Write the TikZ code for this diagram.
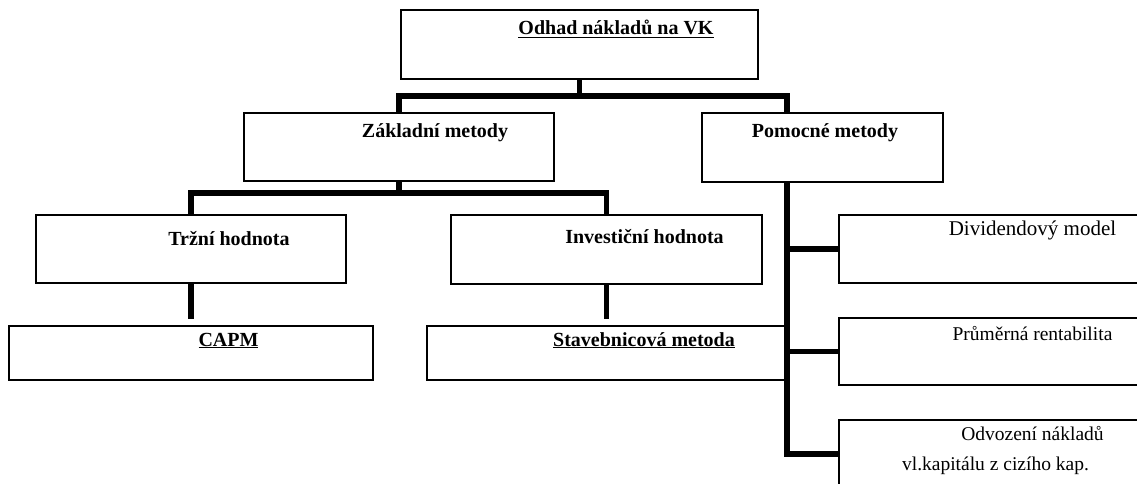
\documentclass[tikz,border=0pt]{standalone}
\usepackage{fontspec}
\setmainfont{Liberation Serif}
\usetikzlibrary{calc}
\tikzset{
  box/.style={draw=black, line width=1.8pt, fill=none, rectangle, inner sep=0pt, anchor=north west},
  conn/.style={draw=black, line width=5.5pt, line cap=butt, line join=miter},
  bt/.style={anchor=base, inner sep=0pt, font=\fontsize{20}{22}\selectfont\bfseries},
  rt/.style={anchor=base, inner sep=0pt, font=\fontsize{19.5}{22}\selectfont},
}
\begin{document}
\begin{tikzpicture}[x=1pt,y=-1pt]
\useasboundingbox (0,0) rectangle (1137,484);
\clip (0,0) rectangle (1137,484);
\fill[white] (0,0) rectangle (1137,484);
% boxes
\node[box, minimum width=357pt, minimum height=69pt] (top) at (400,9) {};
\node[box, minimum width=310pt, minimum height=68pt] (zak) at (243,112) {};
\node[box, minimum width=241pt, minimum height=69pt] (pom) at (701,112) {};
\node[box, minimum width=310pt, minimum height=68pt] (trz) at (35,214) {};
\node[box, minimum width=311pt, minimum height=69pt] (inv) at (450,214) {};
\node[box, minimum width=364pt, minimum height=54pt] (capm) at (8,325) {};
\node[box, minimum width=361pt, minimum height=54pt] (stav) at (426,325) {};
\node[box, minimum width=330pt, minimum height=68pt] (div) at (838,214) {};
\node[box, minimum width=330pt, minimum height=67pt] (pru) at (838,317) {};
\node[box, minimum width=330pt, minimum height=68pt] (odv) at (838,419) {};
% texts
\node[bt] (t1) at (616,35) {\underline{Odhad nákladů na VK}};
\node[bt] (t2) at (435,138) {Základní metody};
\node[bt] (t3) at (825,137) {Pomocné metody};
\node[bt] (t4) at (229,245) {Tržní hodnota};
\node[bt] (t5) at (644.5,243) {Investiční hodnota};
\node[bt] (t6) at (228.5,346) {\underline{CAPM}};
\node[bt] (t7) at (644,346) {\underline{Stavebnicová metoda}};
\node[rt, font=\fontsize{21}{24}\selectfont] (t8) at (1032.5,235) {Dividendový model};
\node[rt] (t9) at (1032.5,340) {Průměrná rentabilita};
\node[rt] (t10) at (1032.5,440) {Odvození nákladů};
\node[rt] (t11) at (995.5,470) {vl.kapitálu z cizího kap.};
% connectors
\coordinate (pomstemtop) at ($(pom.north west)+(86,0)$);
\coordinate (pomstembot) at ($(pom.south west)+(86,0)$);
\draw[conn] (top.south) -- ++(0,18);
\draw[conn] (zak.north) -- ++(0,-16) -| (pomstemtop);
\draw[conn] (zak.south) -- ++(0,13);
\draw[conn] (trz.north) -- ++(0,-21) -| (inv.north);
\draw[conn] (trz.south) -- ++(0,35);
\draw[conn] (inv.south) -- ++(0,34);
\draw[conn] (pomstembot) |- (odv.west);
\draw[conn] (div.west) -- ++(-51,0);
\draw[conn] (pru.west) -- ++(-51,0);
\end{tikzpicture}
\end{document}
